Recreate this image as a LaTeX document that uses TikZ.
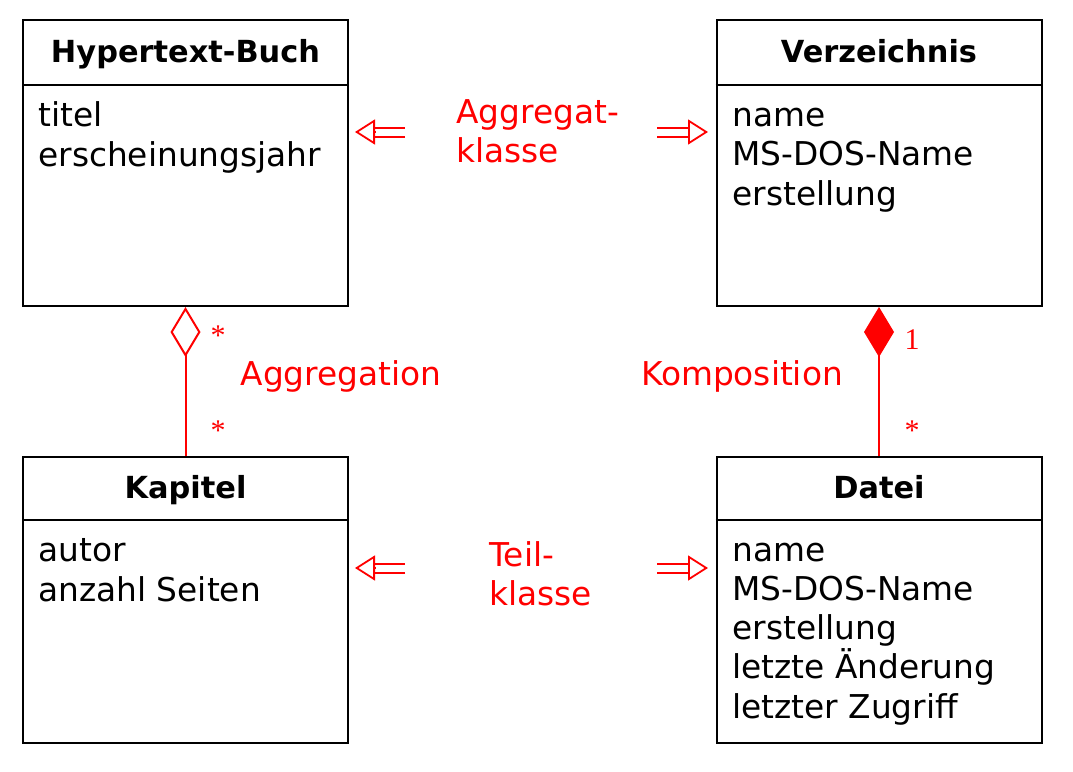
\documentclass[tikz,border=0pt]{standalone}
\usepackage{fontspec}
\setmainfont{DejaVu Sans}
\newfontfamily\multfont{Liberation Serif}
\usetikzlibrary{arrows.meta,positioning}

\begin{document}
\begin{tikzpicture}[x=0.5pt,y=-0.5pt,
        classbox/.style={draw,line width=1pt,minimum width=162.5pt,minimum height=143pt,inner sep=0pt},
        classname/.style={font=\bfseries\fontsize{15.2}{19.5}\selectfont,inner sep=0pt,anchor=base},
        attrs/.style={align=left,font=\fontsize{16.4}{19.6}\selectfont,inner sep=0pt,anchor=base west},
        note/.style={text=red,align=left,font=\fontsize{16.4}{19.3}\selectfont,inner sep=0pt},
        mult/.style={text=red,font=\multfont\fontsize{15}{15}\selectfont,inner sep=0pt},
        subline/.style={draw=red,line width=1pt,double=white,double distance=3.5pt},
        subtip/.style={draw=red,line width=0.9pt,-{Triangle[open,length=10pt,width=12.5pt]}},
        aggr/.style={draw=red,line width=1pt,-{Diamond[open,length=25pt,width=15pt]}},
        comp/.style={draw=red,line width=1pt,-{Diamond[length=25pt,width=15pt]}}]
        \useasboundingbox (0,0) rectangle (1073,772);
        % Klassen
        \node[classbox] (buch) at (185.5,163) {};
        \node[classbox] (verz) at (879,163) {};
        \node[classbox] (kapitel) at (185.5,599.5) {};
        \node[classbox] (datei) at (879,599.5) {};
        \draw[line width=1pt] ([yshift=-33pt]buch.north west) -- ([yshift=-33pt]buch.north east);
        \draw[line width=1pt] ([yshift=-33pt]verz.north west) -- ([yshift=-33pt]verz.north east);
        \draw[line width=1pt] ([yshift=-32pt]kapitel.north west) -- ([yshift=-32pt]kapitel.north east);
        \draw[line width=1pt] ([yshift=-32pt]datei.north west) -- ([yshift=-32pt]datei.north east);
        \node[classname] (buchname) at (185.5,62) {Hypertext-Buch};
        \node[classname] (verzname) at (879,62) {Verzeichnis};
        \node[classname] (kapitelname) at (185.5,498) {Kapitel};
        \node[classname] (dateiname) at (879,498) {Datei};
        % base west = Grundlinie der letzten Zeile
        \node[attrs] (buchattr) at (38,166) {titel\\erscheinungsjahr};
        \node[attrs] (verzattr) at (732,205) {name\\MS-DOS-Name\\erstellung};
        \node[attrs] (kapitelattr) at (38,601) {autor\\anzahl Seiten};
        \node[attrs] (dateiattr) at (732,718) {name\\MS-DOS-Name\\erstellung\\letzte Änderung\\letzter Zugriff};
        % Beziehungen
        \draw[aggr] (kapitel) -- (buch);
        \draw[comp] (datei) -- (verz);
        \node[note] (aggregation) at (341,376) {Aggregation};
        \node[note] (komposition) at (742,376) {Komposition};
        \node[mult] at (218,336) {*};
        \node[mult] at (218,431) {*};
        \node[mult] at (912,340) {1};
        \node[mult] at (912,431) {*};
        % Aggregatklasse / Teilklasse
        \node[note,anchor=west] (aggrklasse) at (456,131) {Aggregat-\\klasse};
        \node[note,anchor=west] (teilklasse) at (489,574) {Teil-\\klasse};
        \coordinate (ak1) at (405,132);
        \coordinate (ak1h) at (375,132);
        \coordinate (ak2) at (355,132);
        \coordinate (ak3) at (657,132);
        \coordinate (ak3h) at (688,132);
        \coordinate (ak4) at (708,132);
        \coordinate (tk1) at (405,568);
        \coordinate (tk1h) at (375,568);
        \coordinate (tk2) at (355,568);
        \coordinate (tk3) at (657,568);
        \coordinate (tk3h) at (688,568);
        \coordinate (tk4) at (708,568);
        \draw[subline] (ak1) -- (ak1h);
        \draw[subtip] (ak1h) -- (ak2);
        \draw[subline] (ak3) -- (ak3h);
        \draw[subtip] (ak3h) -- (ak4);
        \draw[subline] (tk1) -- (tk1h);
        \draw[subtip] (tk1h) -- (tk2);
        \draw[subline] (tk3) -- (tk3h);
        \draw[subtip] (tk3h) -- (tk4);
\end{tikzpicture}
\end{document}
